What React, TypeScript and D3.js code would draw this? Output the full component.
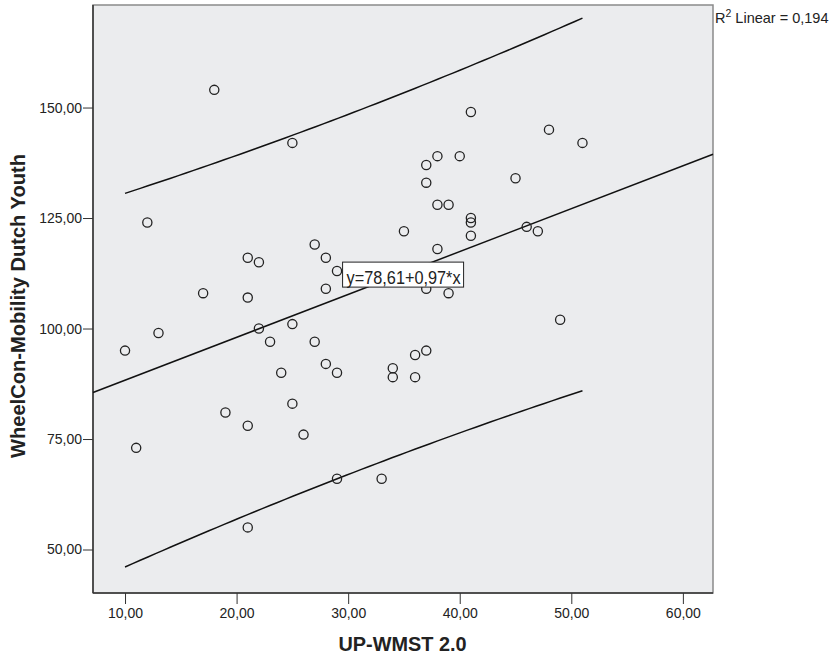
import React, { useRef, useEffect } from 'react';
import * as d3 from 'd3';

// UP-WMST 2.0 score (x) and WheelCon-Mobility score (y)
const upWmst = [
  10, 11, 12, 13, 17, 18, 19, 21, 21, 21, 21, 22, 22, 23, 24, 25, 25, 25, 26, 27, 27,
  28, 28, 28, 29, 29, 29, 33, 34, 34, 35, 36, 36, 37, 37, 37, 37, 38, 38, 38, 39, 39,
  40, 41, 41, 41, 41, 45, 46, 47, 48, 49, 51,
];
const wheelCon = [
  95, 73, 124, 99, 108, 154, 81, 116, 107, 78, 55, 115, 100, 97, 90, 142, 101, 83, 76, 119, 97,
  116, 109, 92, 113, 90, 66, 66, 91, 89, 122, 94, 89, 137, 133, 109, 95, 139, 128, 118, 128, 108,
  139, 149, 125, 124, 121, 134, 123, 122, 145, 102, 142,
];

// fit reported on the chart
const intercept = 78.61;
const slope = 0.97;
const rSquared = '0,194';
// residual standard error, estimated from the width of the drawn 95% band
// (some points overlap in the original, so the visible points give a slightly larger value)
const residualSE = 20.1;

const xTicks = [10, 20, 30, 40, 50, 60];
const yTicks = [50, 75, 100, 125, 150];

// where the equation box sits, in data units
const eqLabelAt = { x: 29.5, y: 112.2 };

const fmt = (v: number) => v.toFixed(2).replace('.', ',');

const W = 831;
const H = 657;

const Chart = () => {
  const ref = useRef<SVGSVGElement>(null);

  useEffect(() => {
    const svg = d3.select(ref.current);
    svg.selectAll('*').remove();

    const left = 93, right = 713, top = 5, bottom = 593;
    const x = d3.scaleLinear().domain([7.13, 62.7]).range([left, right]);
    const y = d3.scaleLinear().domain([40.16, 173.2]).range([bottom, top]);
    const font = '"Liberation Sans", Arial, sans-serif';

    // plot background
    svg.append('rect')
      .attr('x', left).attr('y', top)
      .attr('width', right - left).attr('height', bottom - top)
      .attr('fill', '#ebecee')
      .attr('stroke', '#8a8a8a')
      .attr('stroke-width', 1.5);

    // axes
    const xAxis = svg.append('g')
      .attr('transform', `translate(0,${bottom})`)
      .call(d3.axisBottom(x).tickValues(xTicks).tickFormat(d => fmt(+d)).tickSizeOuter(0).tickSize(11));
    const yAxis = svg.append('g')
      .attr('transform', `translate(${left},0)`)
      .call(d3.axisLeft(y).tickValues(yTicks).tickFormat(d => fmt(+d)).tickSizeOuter(0).tickSize(10));
    [xAxis, yAxis].forEach(g => {
      g.select('.domain').remove();
      g.selectAll('line').attr('stroke', '#333');
      g.selectAll('text')
        .attr('font-family', font)
        .attr('font-size', 14)
        .attr('fill', '#222');
    });
    xAxis.selectAll('text').attr('dy', null).attr('y', 25);
    yAxis.selectAll('text').attr('x', -11);

    svg.append('line')
      .attr('x1', left).attr('x2', left).attr('y1', top).attr('y2', bottom)
      .attr('stroke', '#333').attr('stroke-width', 1.5);
    svg.append('line')
      .attr('x1', left).attr('x2', right).attr('y1', bottom).attr('y2', bottom)
      .attr('stroke', '#333').attr('stroke-width', 1.5);

    // axis titles
    svg.append('text')
      .attr('x', 402.5)
      .attr('y', 651)
      .attr('text-anchor', 'middle')
      .attr('font-family', font)
      .attr('font-weight', 'bold')
      .attr('font-size', 20)
      .attr('textLength', 128)
      .attr('lengthAdjust', 'spacingAndGlyphs')
      .attr('fill', '#222')
      .text('UP-WMST 2.0');

    svg.append('text')
      .attr('transform', 'rotate(-90)')
      .attr('x', -306)
      .attr('y', 25)
      .attr('text-anchor', 'middle')
      .attr('font-family', font)
      .attr('font-weight', 'bold')
      .attr('font-size', 20)
      .attr('textLength', 304)
      .attr('lengthAdjust', 'spacingAndGlyphs')
      .attr('fill', '#222')
      .text('WheelCon-Mobility Dutch Youth');

    // 95% prediction interval for individual values
    const n = upWmst.length;
    const xbar = d3.mean(upWmst) as number;
    const sxx = d3.sum(upWmst, v => (v - xbar) ** 2);
    const t = 2.0076;
    const xmin = d3.min(upWmst) as number;
    const xmax = d3.max(upWmst) as number;
    const grid = d3.range(0, 61).map(i => xmin + (xmax - xmin) * i / 60);
    const half = (v: number) => t * residualSE * Math.sqrt(1 + 1 / n + (v - xbar) ** 2 / sxx);

    const line = d3.line<[number, number]>().x(d => x(d[0])).y(d => y(d[1]));
    const upper = grid.map(v => [v, intercept + slope * v + half(v)] as [number, number]);
    const lower = grid.map(v => [v, intercept + slope * v - half(v)] as [number, number]);
    const fit = x.domain().map(v => [v, intercept + slope * v] as [number, number]);

    [upper, lower, fit].forEach(pts => {
      svg.append('path')
        .attr('d', line(pts))
        .attr('fill', 'none')
        .attr('stroke', '#111')
        .attr('stroke-width', 1.5);
    });

    // points
    svg.append('g')
      .selectAll('circle')
      .data(upWmst)
      .enter()
      .append('circle')
      .attr('cx', d => x(d))
      .attr('cy', (d, i) => y(wheelCon[i]))
      .attr('r', 4.6)
      .attr('fill', 'none')
      .attr('stroke', '#222')
      .attr('stroke-width', 1.3);

    // equation box
    const eq = svg.append('g')
      .attr('transform', `translate(${x(eqLabelAt.x)},${y(eqLabelAt.y)})`);
    eq.append('rect')
      .attr('x', 0).attr('y', -12.5)
      .attr('width', 121).attr('height', 25)
      .attr('fill', '#fff')
      .attr('stroke', '#222')
      .attr('stroke-width', 1);
    eq.append('text')
      .attr('x', 4).attr('y', 9.5)
      .attr('font-family', font)
      .attr('font-size', 19)
      .attr('textLength', 114)
      .attr('lengthAdjust', 'spacingAndGlyphs')
      .attr('fill', '#222')
      .text(`y=${fmt(intercept)}+${fmt(slope)}*x`);

    // R squared note
    const r2 = svg.append('text')
      .attr('x', right + 2)
      .attr('y', 23)
      .attr('font-family', font)
      .attr('font-size', 14.5)
      .attr('fill', '#222');
    r2.append('tspan').text('R');
    r2.append('tspan').attr('font-size', 10.5).attr('dy', -6).text('2');
    r2.append('tspan').attr('dy', 6).text(` Linear = ${rSquared}`);
  }, []);

  return <svg ref={ref} width={W} height={H} style={{ position: 'absolute', left: 0, top: 0 }} />;
};

export default function App() {
  return <Chart />;
}
